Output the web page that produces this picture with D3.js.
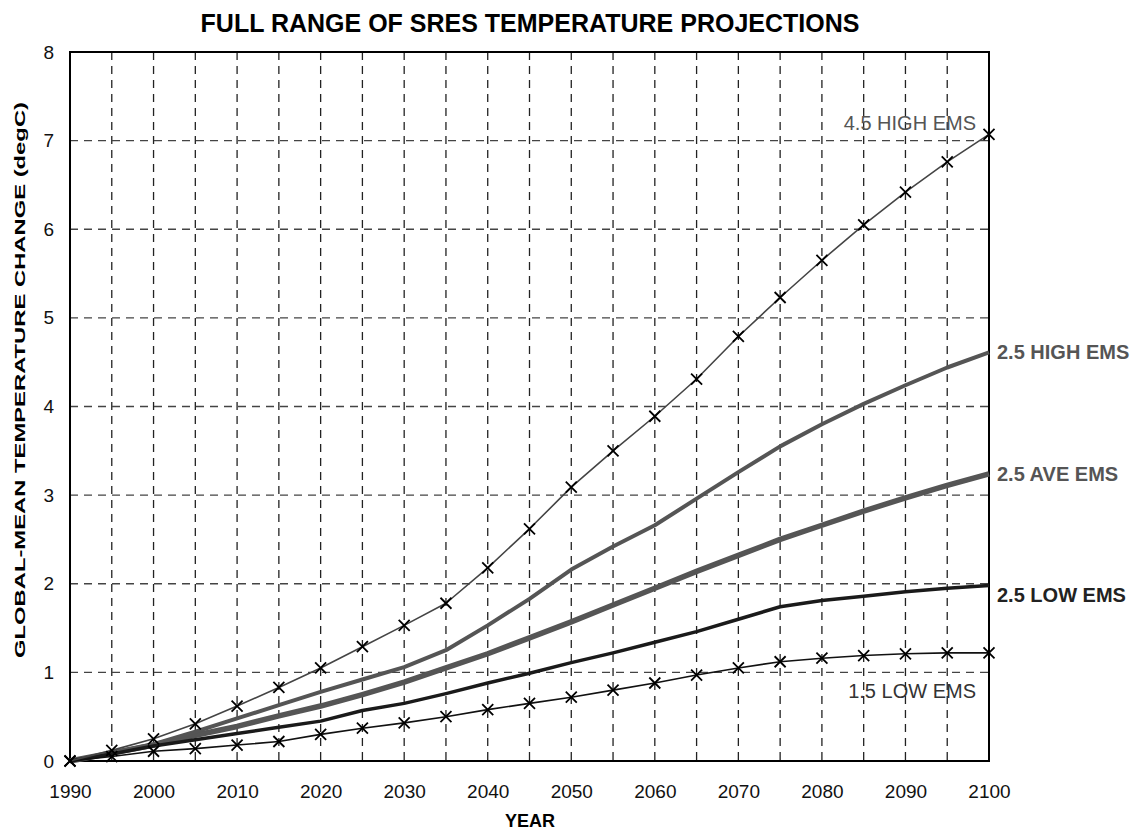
<!DOCTYPE html>
<html>
<head>
<meta charset="utf-8">
<script src="https://cdn.jsdelivr.net/npm/d3@7"></script>
<style>
  body { margin: 0; background: #fff; }
  text { font-family: "Liberation Sans", Arial, sans-serif; }
</style>
</head>
<body>
<div id="chart"></div>
<script>
// Data
var years     = [1990, 1995, 2000, 2005, 2010, 2015, 2020, 2025, 2030, 2035, 2040, 2045,
                 2050, 2055, 2060, 2065, 2070, 2075, 2080, 2085, 2090, 2095, 2100];
var high45    = [0, 0.12, 0.25, 0.42, 0.62, 0.83, 1.05, 1.29, 1.53, 1.78, 2.18, 2.62,
                 3.09, 3.50, 3.89, 4.31, 4.79, 5.23, 5.65, 6.05, 6.42, 6.76, 7.07];
var high25    = [0, 0.09, 0.19, 0.33, 0.48, 0.63, 0.78, 0.92, 1.06, 1.25, 1.53, 1.83,
                 2.16, 2.42, 2.66, 2.96, 3.26, 3.55, 3.80, 4.03, 4.24, 4.44, 4.61];
var ave25     = [0, 0.09, 0.18, 0.29, 0.39, 0.51, 0.62, 0.75, 0.89, 1.05, 1.21, 1.39,
                 1.57, 1.76, 1.95, 2.14, 2.32, 2.50, 2.66, 2.82, 2.97, 3.11, 3.24];
var low25     = [0, 0.08, 0.17, 0.24, 0.31, 0.38, 0.45, 0.57, 0.65, 0.76, 0.88, 0.99,
                 1.11, 1.22, 1.34, 1.46, 1.60, 1.74, 1.81, 1.86, 1.91, 1.95, 1.98];
var low15     = [0, 0.05, 0.11, 0.14, 0.18, 0.22, 0.30, 0.37, 0.43, 0.50, 0.58, 0.65,
                 0.72, 0.80, 0.88, 0.97, 1.05, 1.12, 1.16, 1.19, 1.21, 1.22, 1.22];
var x_ticks   = [1990, 2000, 2010, 2020, 2030, 2040, 2050, 2060, 2070, 2080, 2090, 2100];
var y_ticks   = [0, 1, 2, 3, 4, 5, 6, 7, 8];
var grid_years = d3.range(1995, 2100, 5);

var chart_width  = 1135;
var chart_height = 830;
var margin = { top: 52, right: 146, bottom: 69, left: 70 };

var x = d3.scaleLinear()
    .domain([1990, 2100])
    .range([margin.left, chart_width - margin.right]);
var y = d3.scaleLinear()
    .domain([0, 8])
    .range([chart_height - margin.bottom, margin.top]);

var svg = d3.select('#chart')
    .append('svg')
    .attr('width', chart_width)
    .attr('height', chart_height);

// title
svg.append('text')
    .attr('x', 530)
    .attr('y', 32)
    .attr('text-anchor', 'middle')
    .attr('font-size', 25)
    .attr('font-weight', 'bold')
    .text('FULL RANGE OF SRES TEMPERATURE PROJECTIONS');

// grid
svg.append('g').selectAll('line')
    .data(grid_years)
    .enter()
    .append('line')
    .attr('x1', function(d){ return x(d); })
    .attr('x2', function(d){ return x(d); })
    .attr('y1', y(8))
    .attr('y2', y(0))
    .attr('stroke', '#222')
    .attr('stroke-width', 1.3)
    .attr('stroke-dasharray', '8,6');

svg.append('g').selectAll('line')
    .data(y_ticks.slice(1, -1))
    .enter()
    .append('line')
    .attr('x1', x(1990))
    .attr('x2', x(2100))
    .attr('y1', function(d){ return y(d); })
    .attr('y2', function(d){ return y(d); })
    .attr('stroke', '#444')
    .attr('stroke-width', 1.3)
    .attr('stroke-dasharray', '8,6');

// frame
svg.append('rect')
    .attr('x', x(1990))
    .attr('y', y(8))
    .attr('width', x(2100) - x(1990))
    .attr('height', y(0) - y(8))
    .attr('fill', 'none')
    .attr('stroke', '#000')
    .attr('stroke-width', 2);

// axes
var xAxis = svg.append('g')
    .attr('transform', 'translate(0,' + y(0) + ')')
    .call(d3.axisBottom(x).tickValues(x_ticks).tickFormat(d3.format('d')).tickSize(0).tickPadding(23.5));
var yAxis = svg.append('g')
    .attr('transform', 'translate(' + x(1990) + ',0)')
    .call(d3.axisLeft(y).tickValues(y_ticks).tickSize(0).tickPadding(16));
[xAxis, yAxis].forEach(function(a){
    a.select('.domain').remove();
    a.selectAll('text')
        .attr('font-size', 19)
        .attr('font-family', '"Liberation Sans", Arial, sans-serif')
        .attr('fill', '#111');
});

// axis titles
svg.append('text')
    .attr('x', 530)
    .attr('y', 827)
    .attr('text-anchor', 'middle')
    .attr('font-size', 18)
    .attr('font-weight', 'bold')
    .text('YEAR');

svg.append('text')
    .attr('transform', 'translate(25,' + 380 + ') rotate(-90)')
    .attr('text-anchor', 'middle')
    .attr('font-size', 15)
    .attr('font-weight', 'bold')
    .attr('textLength', 556)
    .attr('lengthAdjust', 'spacingAndGlyphs')
    .text('GLOBAL-MEAN TEMPERATURE CHANGE  (degC)');

// series
var series = [
    { name: '2.5 AVE EMS',  values: ave25,  color: '#555', width: 5.5, marks: false },
    { name: '2.5 HIGH EMS', values: high25, color: '#555', width: 4,   marks: false },
    { name: '2.5 LOW EMS',  values: low25,  color: '#1a1a1a', width: 3.5, marks: false },
    { name: '1.5 LOW EMS',  values: low15,  color: '#111', width: 1.6, marks: true },
    { name: '4.5 HIGH EMS', values: high45, color: '#444', width: 1.6, marks: true }
];

var line = d3.line()
    .x(function(d, i){ return x(years[i]); })
    .y(function(d){ return y(d); });

svg.append('g').selectAll('path')
    .data(series)
    .enter()
    .append('path')
    .attr('d', function(d){ return line(d.values); })
    .attr('fill', 'none')
    .attr('stroke', function(d){ return d.color; })
    .attr('stroke-width', function(d){ return d.width; })
    .attr('stroke-linejoin', 'round');

// X markers
var cross = 'M-5.5,-5.5L5.5,5.5M-5.5,5.5L5.5,-5.5';
series.filter(function(s){ return s.marks; }).forEach(function(s){
    svg.append('g').selectAll('path')
        .data(s.values)
        .enter()
        .append('path')
        .attr('transform', function(d, i){ return 'translate(' + x(years[i]) + ',' + y(d) + ')'; })
        .attr('d', cross)
        .attr('stroke', '#000')
        .attr('stroke-width', 1.8);
});

// series labels
var last = years.length - 1;
var labels = [
    { text: '4.5 HIGH EMS', v: high45[last], dx: -13, dy: -4,  anchor: 'end',   bold: false, color: '#555' },
    { text: '2.5 HIGH EMS', v: high25[last], dx: 8,   dy: 7,   anchor: 'start', bold: true,  color: '#555' },
    { text: '2.5 AVE EMS',  v: ave25[last],  dx: 8,   dy: 7,   anchor: 'start', bold: true,  color: '#555' },
    { text: '2.5 LOW EMS',  v: low25[last],  dx: 8,   dy: 16,  anchor: 'start', bold: true,  color: '#222' },
    { text: '1.5 LOW EMS',  v: low15[last],  dx: -13, dy: 45,  anchor: 'end',   bold: false, color: '#333' }
];
svg.append('g').selectAll('text')
    .data(labels)
    .enter()
    .append('text')
    .attr('x', function(d){ return x(2100) + d.dx; })
    .attr('y', function(d){ return y(d.v) + d.dy; })
    .attr('text-anchor', function(d){ return d.anchor; })
    .attr('font-size', 20)
    .attr('font-weight', function(d){ return d.bold ? 'bold' : 'normal'; })
    .attr('fill', function(d){ return d.color; })
    .text(function(d){ return d.text; });
</script>
</body>
</html>
